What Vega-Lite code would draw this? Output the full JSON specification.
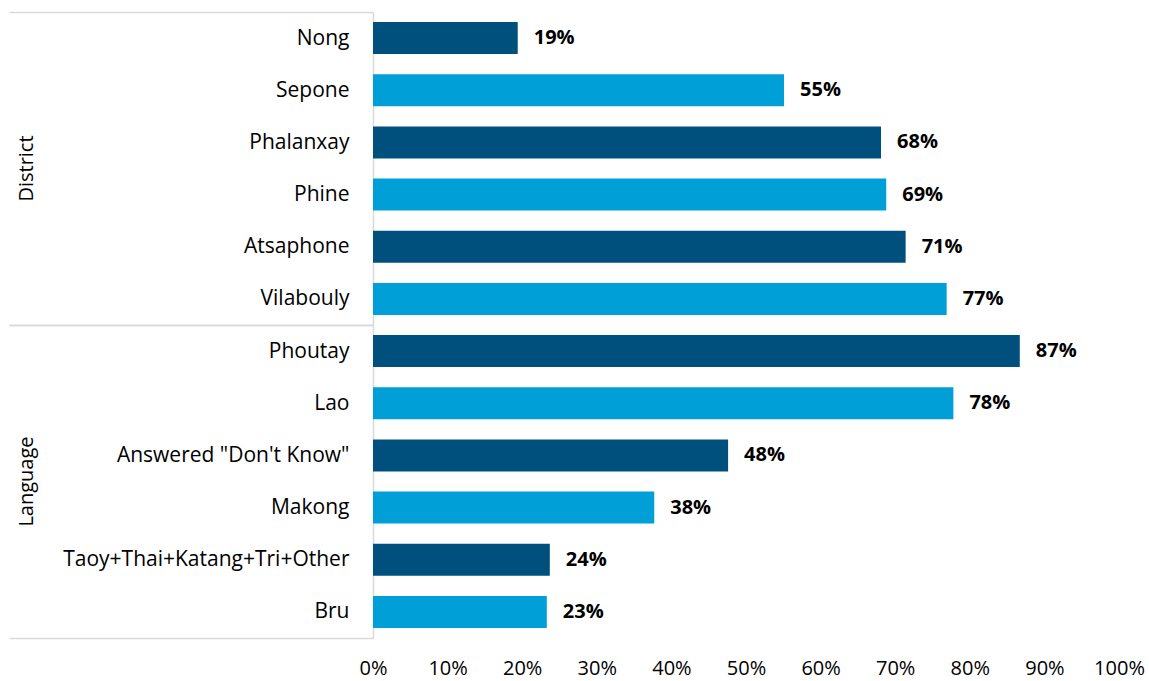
{
  "$schema": "https://vega.github.io/schema/vega-lite/v6.json",
  "padding": {"left": 8, "top": 1, "right": 0, "bottom": 0},
  "background": "white",
  "bounds": "flush",
  "data": {
    "values": [
      {"group": "District", "label": "Nong", "value": 0.194, "shade": "dark"},
      {"group": "District", "label": "Sepone", "value": 0.551, "shade": "light"},
      {"group": "District", "label": "Phalanxay", "value": 0.681, "shade": "dark"},
      {"group": "District", "label": "Phine", "value": 0.688, "shade": "light"},
      {"group": "District", "label": "Atsaphone", "value": 0.714, "shade": "dark"},
      {"group": "District", "label": "Vilabouly", "value": 0.769, "shade": "light"},
      {"group": "Language", "label": "Phoutay", "value": 0.867, "shade": "dark"},
      {"group": "Language", "label": "Lao", "value": 0.778, "shade": "light"},
      {"group": "Language", "label": "Answered \"Don't Know\"", "value": 0.476, "shade": "dark"},
      {"group": "Language", "label": "Makong", "value": 0.377, "shade": "light"},
      {"group": "Language", "label": "Taoy+Thai+Katang+Tri+Other", "value": 0.237, "shade": "dark"},
      {"group": "Language", "label": "Bru", "value": 0.233, "shade": "light"}
    ]
  },
  "facet": {
    "row": {
      "field": "group",
      "type": "nominal",
      "sort": ["District", "Language"],
      "header": {
        "title": null,
        "labelAngle": -90,
        "labelOrient": "left",
        "labelFont": "Open Sans",
        "labelFontSize": 20,
        "labelColor": "#000000",
        "labelPadding": 326
      }
    }
  },
  "spacing": 0,
  "resolve": {"scale": {"y": "independent"}},
  "spec": {
    "width": 746,
    "height": 313,
    "encoding": {
      "y": {
        "field": "label",
        "type": "nominal",
        "sort": null,
        "scale": {"paddingInner": 0, "paddingOuter": 0},
        "axis": {
          "title": null,
          "domainColor": "#D9D9D9",
          "domainWidth": 1.5,
          "tickBand": "extent",
          "ticks": true,
          "tickSize": 364,
          "tickWidth": 1.5,
          "tickColor": {
            "condition": {"test": "!isValid(datum.value) || datum.value === 'Vilabouly' || datum.value === 'Bru'", "value": "#D9D9D9"},
            "value": "transparent"
          },
          "labelPadding": -340,
          "labelFont": "Open Sans",
          "labelFontSize": 21,
          "labelColor": "#000000",
          "labelLimit": 400
        }
      },
      "x": {
        "field": "value",
        "type": "quantitative",
        "scale": {"domain": [0, 1]},
        "axis": {
          "title": null,
          "format": ".0%",
          "values": [0, 0.1, 0.2, 0.3, 0.4, 0.5, 0.6, 0.7, 0.8, 0.9, 1],
          "grid": false,
          "domain": false,
          "ticks": false,
          "labelFlush": false,
          "labelPadding": 20,
          "labelFont": "Open Sans",
          "labelFontSize": 20,
          "labelColor": "#000000"
        }
      }
    },
    "layer": [
      {
        "mark": {"type": "bar", "height": {"band": 0.615}},
        "encoding": {
          "color": {
            "field": "shade",
            "type": "nominal",
            "scale": {"domain": ["dark", "light"], "range": ["#00507E", "#009FD7"]},
            "legend": null
          }
        }
      },
      {
        "mark": {"type": "text", "align": "left", "baseline": "middle", "dx": 16, "font": "Open Sans", "fontSize": 20, "fontWeight": "bold", "color": "#000000"},
        "encoding": {
          "text": {"field": "value", "type": "quantitative", "format": ".0%"}
        }
      }
    ]
  },
  "config": {"view": {"stroke": null}}
}
